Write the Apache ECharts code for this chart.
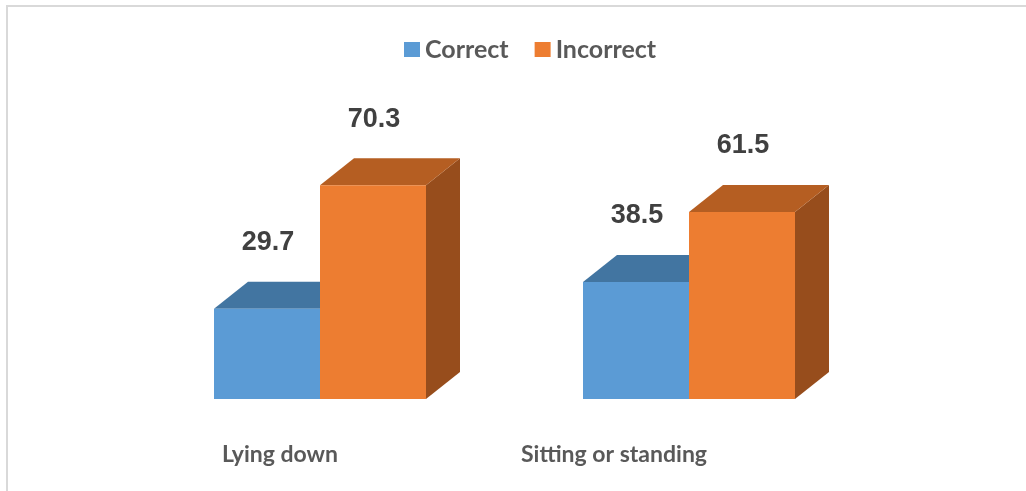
<!DOCTYPE html>
<html>
<head>
<meta charset="utf-8">
<script src="https://cdn.jsdelivr.net/npm/echarts@6/dist/echarts.min.js"></script>
<style>
html,body{margin:0;padding:0;background:#fff;}
#chart{width:1026px;height:491px;}
</style>
</head>
<body>
<div id="chart"></div>
<script>
const categories = ['Lying down', 'Sitting or standing'];
const correctValues = [29.7, 38.5];
const incorrectValues = [70.3, 61.5];
const seriesNames = ['Correct', 'Incorrect'];

const BAR_FRAC = 106 / 369;
const DEPTH_X = 34 / 106;
const DEPTH_Y = 27 / 106;
const LABEL_GAP = 66;

const palettes = [
  { front: '#5B9BD5', top: '#4275A1', side: '#3E6E99' },
  { front: '#ED7D31', top: '#B55E22', side: '#974D1C' }
];

function make3D(k) {
  const pal = palettes[k];
  return function (params, api) {
    const ci = api.value(0);
    const v = api.value(1);
    const base = api.coord([ci, 0]);
    const top = api.coord([ci, v]);
    const band = api.size([1, 0])[0];
    const w = band * BAR_FRAC;
    const x0 = k === 0 ? base[0] - w : base[0];
    const x1 = x0 + w;
    const dx = w * DEPTH_X, dy = w * DEPTH_Y;
    const yT = top[1], yB = base[1];
    return {
      type: 'group',
      children: [
        { type: 'polygon', shape: { points: [[x1, yT], [x1 + dx, yT - dy], [x1 + dx, yB - dy], [x1, yB]] }, style: { fill: pal.side } },
        { type: 'polygon', shape: { points: [[x0, yT], [x0 + dx, yT - dy], [x1 + dx, yT - dy], [x1, yT]] }, style: { fill: pal.top } },
        { type: 'rect', shape: { x: x0, y: yT, width: w, height: yB - yT }, style: { fill: pal.front } },
        { type: 'text', x: (x0 + x1) / 2 + 1, y: yT - LABEL_GAP,
          style: { text: v.toFixed(1), fill: '#404040', font: 'bold 27px "Liberation Sans", Arial, sans-serif', align: 'center', verticalAlign: 'middle' } }
      ]
    };
  };
}

function catLabel(params, api) {
  const ci = api.value(0);
  const p = api.coord([ci, 0]);
  return {
    type: 'text', x: p[0] + 18, y: p[1] + 56,
    style: { text: categories[params.dataIndex], fill: '#595959', font: 'bold 23px Lato, "Open Sans", sans-serif', align: 'right', verticalAlign: 'middle' }
  };
}

const chart = echarts.init(document.getElementById('chart'));
chart.setOption({
  animation: false,
  backgroundColor: '#ffffff',
  graphic: [{
    type: 'rect', shape: { x: 7, y: 6, width: 1040, height: 520 },
    style: { fill: 'none', stroke: '#D9D9D9', lineWidth: 2 }, z: -10
  }],
  legend: {
    data: seriesNames,
    left: 399, top: 32,
    icon: 'rect', itemWidth: 16, itemHeight: 15, itemGap: 26,
    textStyle: { color: '#595959', fontFamily: 'Lato, "Open Sans", sans-serif', fontWeight: 'bold', fontSize: 25 }
  },
  grid: { left: 135.5, right: 152.5, top: 95, bottom: 92 },
  xAxis: { type: 'category', data: categories, show: false },
  yAxis: { type: 'value', min: 0, max: 100, show: false },
  series: [
    { name: seriesNames[0], type: 'custom', color: palettes[0].front, itemStyle: { color: palettes[0].front },
      renderItem: make3D(0), data: correctValues.map((v, i) => [i, v]), encode: { x: 0, y: 1 } },
    { name: seriesNames[1], type: 'custom', color: palettes[1].front, itemStyle: { color: palettes[1].front },
      renderItem: make3D(1), data: incorrectValues.map((v, i) => [i, v]), encode: { x: 0, y: 1 } },
    { name: 'labels', type: 'custom', renderItem: catLabel, data: categories.map((c, i) => [i, 0]), encode: { x: 0, y: 1 } }
  ]
});
</script>
</body>
</html>
